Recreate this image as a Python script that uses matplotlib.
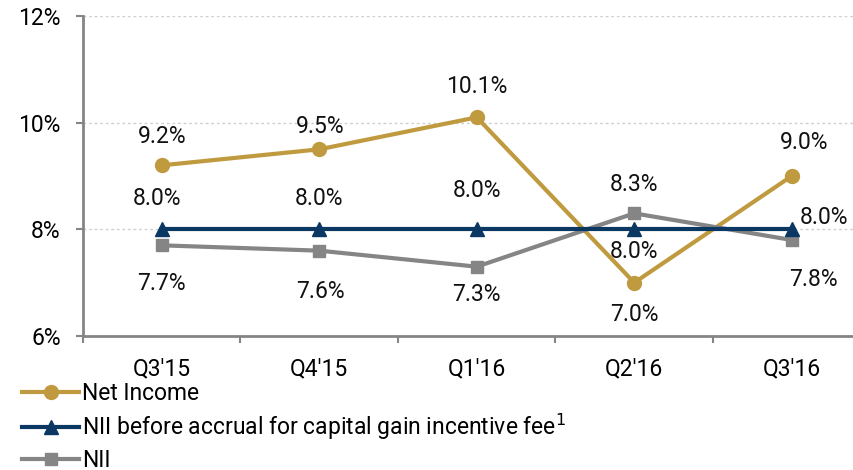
import numpy as np
import matplotlib
matplotlib.use("Agg")
import matplotlib.pyplot as plt
from matplotlib.ticker import FixedLocator, FuncFormatter

plt.rcParams['font.family'] = ['Roboto', 'DejaVu Sans']

quarters = ["Q3'15", "Q4'15", "Q1'16", "Q2'16", "Q3'16"]
net_income = [9.2, 9.5, 10.1, 7.0, 9.0]
nii_before = [8.0, 8.0, 8.0, 8.0, 8.0]
nii = [7.7, 7.6, 7.3, 8.3, 7.8]

# label offsets in pixels (dx, dy), up is positive
ni_off = [(0, 29), (1, 23), (0, 31), (0, -32), (12, 34)]
nb_off = [(-5, 31), (0, 31), (0, 39), (0, -22), (32, 12)]
nii_off = [(0, -38), (1, -41), (0, -28), (0, 29), (22, -39)]

gold = '#C09A3E'
navy = '#0B3862'
gray = '#858585'
fs = 16.5

fig = plt.figure(figsize=(8.54, 4.70), dpi=100)
ax = fig.add_axes([83/854, (470-336)/470, 771/854, 320/470])

x = np.arange(len(quarters))
ax.plot(x, net_income, color=gold, lw=3, marker='o', ms=10, label='Net Income', zorder=3)
ax.plot(x, nii_before, color=navy, lw=3, marker='^', ms=10,
        label='NII before accrual for capital gain incentive fee$^{1}$', zorder=4)
ax.plot(x, nii, color=gray, lw=3, marker='s', ms=9, label='NII', zorder=3)

px = 72 / 100
for vals, offs in [(net_income, ni_off), (nii_before, nb_off), (nii, nii_off)]:
    for i, (v, (dx, dy)) in enumerate(zip(vals, offs)):
        ax.annotate(f"{v:.1f}%", (x[i], v), xytext=(dx*px, dy*px), textcoords='offset points',
                    ha='center', va='center', fontsize=fs, color='#111111', zorder=5)

ax.set_xlim(-0.5, -0.5 + 771/157.5)
ax.set_ylim(6, 12)
ax.yaxis.set_major_locator(FixedLocator([6, 8, 10, 12]))
ax.yaxis.set_major_formatter(FuncFormatter(lambda v, p: f"{v:.0f}%"))
ax.set_xticks(x)
ax.set_xticklabels(quarters)
ax.xaxis.set_minor_locator(FixedLocator(np.arange(-0.5, 5, 1)))
ax.tick_params(axis='x', which='major', length=0, pad=15, labelsize=fs)
ax.tick_params(axis='x', which='minor', length=5, width=1.5, color=gray, direction='out')
ax.tick_params(axis='y', length=5, width=1.5, color=gray, pad=11, labelsize=fs)

for y in [8, 10, 12]:
    ax.axhline(y, color='#d0d0d0', lw=1, ls=(0, (2, 2)), zorder=1)

for s in ['top', 'right']:
    ax.spines[s].set_visible(False)
for s in ['left', 'bottom']:
    ax.spines[s].set_color(gray)
    ax.spines[s].set_linewidth(2)

fig.legend(loc='upper left', bbox_to_anchor=(22/854, 1 - 382/470), frameon=False,
           fontsize=fs, handlelength=2.5, handletextpad=0.13, labelspacing=0.31,
           borderaxespad=0, borderpad=0)

fig.savefig('out.png', dpi=100)
